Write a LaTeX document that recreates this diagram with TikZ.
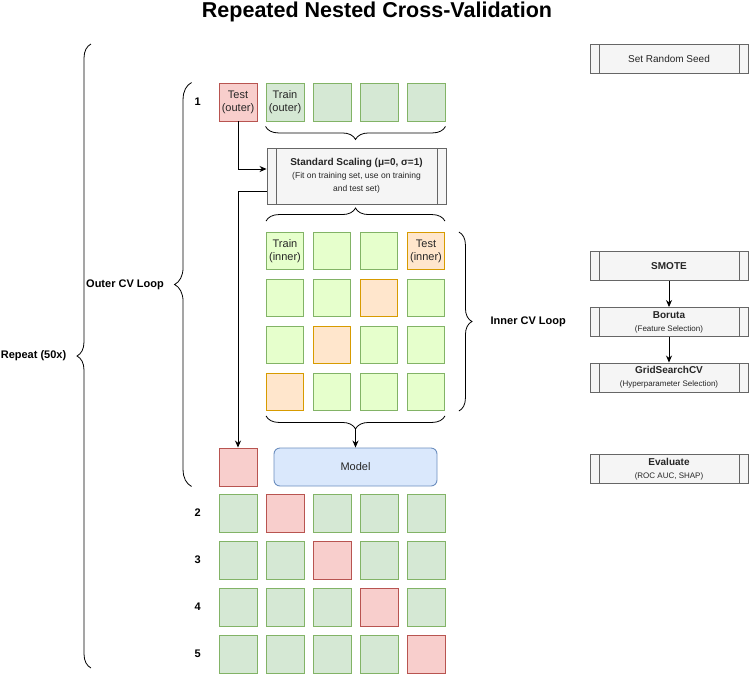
\documentclass[tikz,border=0pt]{standalone}
\usepackage{fontspec}
\setmainfont{Liberation Sans}
\usetikzlibrary{positioning,arrows.meta,decorations.pathreplacing}
\definecolor{trainfill}{HTML}{D5E8D4}
\definecolor{traindraw}{HTML}{82B366}
\definecolor{testfill}{HTML}{F8CECC}
\definecolor{testdraw}{HTML}{B85450}
\definecolor{innerfill}{HTML}{E6FFCC}
\definecolor{orangefill}{HTML}{FFE6CC}
\definecolor{orangedraw}{HTML}{D79B00}
\definecolor{modelfill}{HTML}{DAE8FC}
\definecolor{modeldraw}{HTML}{6C8EBF}
\definecolor{procfill}{HTML}{F5F5F5}
\definecolor{procdraw}{HTML}{666666}

\begin{document}
\begin{tikzpicture}[x=1pt,y=-1pt,line width=0.9pt,
    box/.style={draw,minimum width=38pt,minimum height=38pt,inner sep=0pt,align=center,
      font=\fontsize{11}{13}\selectfont,text=black!85},
    otrain/.style={box,fill=trainfill,draw=traindraw},
    otest/.style={box,fill=testfill,draw=testdraw},
    itrain/.style={box,fill=innerfill,draw=traindraw,minimum width=37pt,minimum height=37pt},
    itest/.style={box,fill=orangefill,draw=orangedraw,minimum width=37pt,minimum height=37pt},
    proc/.style={draw=procdraw,fill=procfill,text=black!85,align=center,inner sep=1pt,
      minimum width=158pt,minimum height=29pt,font=\fontsize{8}{13}\selectfont,
      path picture={\draw[procdraw]
        ([xshift=9pt]path picture bounding box.north west) -- ([xshift=9pt]path picture bounding box.south west)
        ([xshift=-9pt]path picture bounding box.north east) -- ([xshift=-9pt]path picture bounding box.south east);}},
    curly/.style={decorate,decoration={brace,amplitude=#1},line width=0.8pt},
    curly/.default=13pt,
    arr/.style={-{Stealth[length=7pt,width=6pt]}},
    rowlbl/.style={font=\bfseries\fontsize{11}{13}\selectfont},
    looplbl/.style={font=\bfseries\fontsize{11}{13}\selectfont}]
  \useasboundingbox (0,0) rectangle (750,673);

  \node[font=\bfseries\fontsize{21.5}{24}\selectfont,anchor=base] (title) at (377,17) {Repeated Nested Cross-Validation};

  % fold 1 of the outer loop
  \node[otest] (t11) at (238,102) {Test\\(outer)};
  \node[otrain] (t12) at (285,102) {Train\\(outer)};
  \foreach \c in {3,4,5}
    \node[otrain] (t1\c) at ({238+47*(\c-1)},102) {};
  \node[rowlbl,left=14pt of t11] (n1) {1};

  \draw[curly] ([yshift=-5pt]t15.south east) -- ([yshift=-5pt]t12.south west);

  \node[proc,minimum width=179pt,minimum height=56pt,font=\fontsize{8.5}{13}\selectfont] (scale) at (356.5,176)
    {{\bfseries\fontsize{10}{13}\selectfont Standard Scaling (μ=0, σ=1)}\\(Fit on training set, use on training\\and test set)};

  % inner grid
  \foreach \r in {1,...,4}
    \foreach \c in {1,...,4}{
      \ifnum\numexpr\c+\r\relax=5
        \node[itest] (in-\r-\c) at ({238+47*\c},{204+47*\r}) {};
      \else
        \node[itrain] (in-\r-\c) at ({238+47*\c},{204+47*\r}) {};
      \fi}
  \node[font=\fontsize{11}{13}\selectfont,text=black!85,align=center] at (in-1-1) {Train\\(inner)};
  \node[font=\fontsize{11}{13}\selectfont,text=black!85,align=center] at (in-1-4) {Test\\(inner)};

  \draw[curly] ([yshift=11pt]in-1-1.north west) -- ([yshift=11pt]in-1-4.north east);
  \draw[curly] ([yshift=-5pt]in-4-4.south east) -- ([yshift=-5pt]in-4-1.south west)
    coordinate[midway,yshift=-13pt] (gridtip);
  \draw[curly] ([xshift=14pt]in-1-4.north east) -- ([xshift=14pt]in-4-4.south east)
    node[looplbl,midway,anchor=west,xshift=28pt] {Inner CV Loop};

  \node[otest] (r1) at (238,467) {};
  \node[box,draw=modeldraw,fill=modelfill,rounded corners=6pt,minimum width=163pt] (model) at (355.5,467) {Model};

  \draw[arr] (t11.south) |- ([yshift=7pt]scale.west);
  \draw[arr] ([yshift=-15pt]scale.west) -| (r1.north);
  \draw[arr] (gridtip) -- (gridtip |- model.north);

  \draw[curly=17pt] ([xshift=-27pt]r1.south west) -- ([xshift=-27pt]t11.north west)
    node[looplbl,midway,anchor=east,xshift=-24pt] {Outer CV Loop};

  % folds 2 to 5
  \foreach \r in {2,...,5}{
    \foreach \c in {1,...,5}{
      \ifnum\c=\r
        \node[otest] (o\r\c) at ({238+47*(\c-1)},{419+47*\r}) {};
      \else
        \node[otrain] (o\r\c) at ({238+47*(\c-1)},{419+47*\r}) {};
      \fi}
    \node[rowlbl,left=14pt of o\r1] (n\r) {\r};}

  \coordinate (reptop) at (91,44);
  \coordinate (repbot) at (91,668);
  \draw[curly=14pt] (repbot) -- (reptop)
    node[looplbl,midway,anchor=east,xshift=-21pt] {Repeat (50x)};

  % steps on the right
  \node[proc,font=\fontsize{10}{13}\selectfont] (seed) at (669,59) {Set Random Seed};
  \node[proc] (smote) at (669,266) {{\bfseries\fontsize{10}{13}\selectfont SMOTE}};
  \node[proc] (boruta) at (669,322) {{\bfseries\fontsize{10}{13}\selectfont Boruta}\\(Feature Selection)};
  \node[proc] (gscv) at (669,377.5) {{\bfseries\fontsize{10}{13}\selectfont GridSearchCV}\\(Hyperparameter Selection)};
  \node[proc] (eval) at (669,469) {{\bfseries\fontsize{10}{13}\selectfont Evaluate}\\(ROC AUC, SHAP)};
  \draw[arr] (smote) -- (boruta);
  \draw[arr] (boruta) -- (gscv);
\end{tikzpicture}
\end{document}
